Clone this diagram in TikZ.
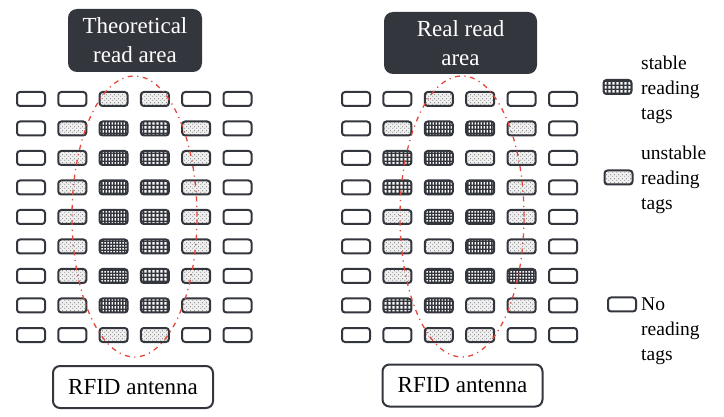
\documentclass[tikz,border=0pt]{standalone}
\usepackage{fontspec}
\setmainfont{Liberation Serif}
\usetikzlibrary{patterns}
\pgfdeclarepatternformonly{stabbar}{\pgfqpoint{0pt}{0pt}}{\pgfqpoint{3pt}{4pt}}{\pgfqpoint{3pt}{4pt}}{\pgfpathrectangle{\pgfqpoint{0.7pt}{0.5pt}}{\pgfqpoint{1.7pt}{3pt}}\pgfusepath{fill}}
\pgfdeclarepatternformonly{stabsq}{\pgfqpoint{0pt}{0pt}}{\pgfqpoint{4pt}{4pt}}{\pgfqpoint{4pt}{4pt}}{\pgfpathrectangle{\pgfqpoint{0.5pt}{0.5pt}}{\pgfqpoint{2.8pt}{2.8pt}}\pgfusepath{fill}}
\pgfdeclarepatternformonly{stabchk}{\pgfqpoint{0pt}{0pt}}{\pgfqpoint{2.6pt}{2.6pt}}{\pgfqpoint{2.6pt}{2.6pt}}{\pgfpathrectangle{\pgfqpoint{0.4pt}{0.4pt}}{\pgfqpoint{1.6pt}{1.6pt}}\pgfusepath{fill}}
\pgfdeclarepatternformonly{unstdots}{\pgfqpoint{0pt}{0pt}}{\pgfqpoint{4pt}{4pt}}{\pgfqpoint{4pt}{4pt}}{\pgfpathrectangle{\pgfqpoint{0.5pt}{0.5pt}}{\pgfqpoint{0.9pt}{0.9pt}}\pgfpathrectangle{\pgfqpoint{2.5pt}{2.3pt}}{\pgfqpoint{0.9pt}{0.9pt}}\pgfusepath{fill}}
\definecolor{dark}{HTML}{33363D}
\definecolor{redl}{HTML}{E5483A}
\begin{document}
\begin{tikzpicture}[x=1pt,y=-1pt,
  cellN/.style={draw=dark, line width=2pt, rounded corners=3pt, minimum width=28pt, minimum height=14pt, inner sep=0pt, fill=white},
  cellU/.style={cellN, preaction={fill=gray!12}, pattern=unstdots, pattern color=gray!75!black},
  cellA/.style={cellN, preaction={fill=dark}, pattern=stabbar, pattern color=white},
  cellQ/.style={cellN, preaction={fill=dark}, pattern=stabsq, pattern color=white},
  cellC/.style={cellN, preaction={fill=dark}, pattern=stabchk, pattern color=white},
  titlebox/.style={fill=dark, rounded corners=9pt, text=white, align=center, inner sep=0pt, font=\fontsize{23}{29}\selectfont},
  antbox/.style={draw=dark, line width=2pt, rounded corners=7pt, fill=white, inner sep=0pt, minimum width=160pt, minimum height=42pt, font=\fontsize{23}{28}\selectfont},
  area/.style={draw=redl, line width=1.3pt, dash pattern=on 5pt off 4.5pt on 1.2pt off 4.5pt},
  legtext/.style={align=left, anchor=west, inner sep=0pt, font=\fontsize{19.5}{25}\selectfont}]
\useasboundingbox (0,0) rectangle (724,417);
% left grid
\foreach \row [count=\r] in {{N,N,U,U,N,N},{N,U,A,Q,U,N},{N,U,A,Q,U,N},{N,U,A,Q,U,N},{N,U,A,Q,U,N},{N,U,C,Q,U,N},{N,U,C,Q,U,N},{N,U,A,Q,U,N},{N,N,U,U,N,N}}{
  \foreach \c [count=\i] in \row {
    \node[cell\c] (L-\r-\i) at ({31+41.3*(\i-1)},{99+29.5*(\r-1)}) {};
  }
}
% right grid
\foreach \row [count=\r] in {{N,N,U,U,N,N},{N,U,A,A,U,N},{N,Q,A,U,U,N},{N,Q,A,A,U,N},{N,U,C,C,U,N},{N,U,U,A,U,N},{N,U,C,C,C,N},{N,Q,A,U,U,N},{N,N,U,U,N,N}}{
  \foreach \c [count=\i] in \row {
    \node[cell\c] (R-\r-\i) at ({356+41.4*(\i-1)},{99+29.5*(\r-1)}) {};
  }
}
% read areas
\draw[area] (134.5,216.5) ellipse [x radius=62.5pt, y radius=140.5pt];
\draw[area] (462,216.5) ellipse [x radius=62pt, y radius=140.5pt];
% titles
\node[titlebox, minimum width=134pt, minimum height=63pt] (t1) at (135,40.5) {Theoretical\\read area};
\node[titlebox, minimum width=153pt, minimum height=62pt] (t2) at (460.5,43) {Real read\\area};
% antennas
\node[antbox] (a1) at (133,387) {RFID antenna};
\node[antbox] (a2) at (462.5,385.5) {RFID antenna};
% legend
\node[cellQ] (k1) at (617.5,87) {};
\node[legtext] (k1t) at (641,90) {stable\\reading\\tags};
\node[cellU] (k2) at (618.5,177.5) {};
\node[legtext] (k2t) at (641,179.5) {unstable\\reading\\tags};
\node[cellN] (k3) at (622,304.5) {};
\node[legtext] (k3t) at (641,331.5) {No\\reading\\tags};
\end{tikzpicture}
\end{document}
